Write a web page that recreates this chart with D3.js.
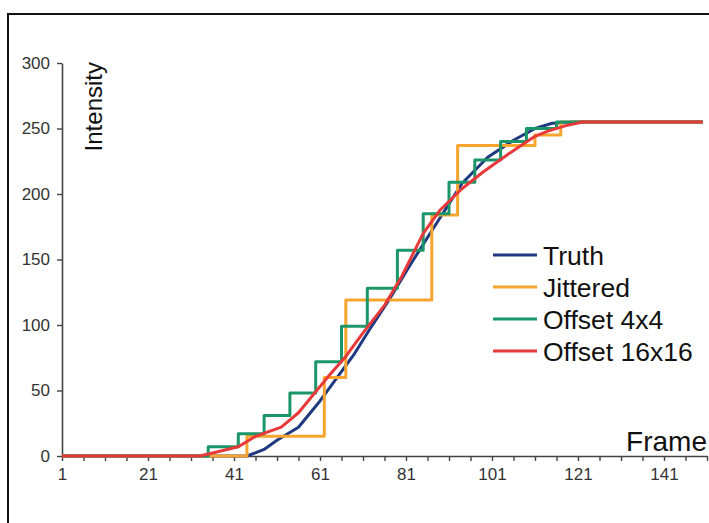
<!DOCTYPE html>
<html>
<head>
<meta charset="utf-8">
<script src="https://cdn.jsdelivr.net/npm/d3@7"></script>
<style>
  body { margin: 0; background: #fff; }
  svg { display: block; font-family: "Liberation Sans", Arial, Helvetica, sans-serif; }
</style>
</head>
<body>
<div id="chart"></div>
<script>
// series values, [frame, intensity]
const truth = [[1,0],[44,0],[48,5],[51,12],[56,22],[61,42],[65,60],[69,78],[73,99],[77,119],[82,146],[87,172],[94,208],[100,228],[106,241],[111,250],[115,254],[121,255],[150,255]];
const jittered = [[1,0],[44,15],[62,60],[67,119],[87,184],[93,237],[111,245],[117,255],[150,255]];
const offset4 = [[1,0],[35,7],[42,17],[48,31],[54,48],[60,72],[66,99],[72,128],[79,157],[85,185],[91,209],[97,226],[103,240],[109,250],[116,255],[150,255]];
const offset16 = [[1,0],[33,0],[37,3],[42,7],[46,15],[52,22],[56,33],[59,45],[63,61],[67,76],[71,94],[76,115],[80,137],[85,170],[89,188],[94,204],[99,217],[105,231],[111,244],[114,248],[118,252],[122,255],[150,255]];

const seriesNames = ["Truth", "Jittered", "Offset 4x4", "Offset 16x16"];
const seriesColors = ["#1f3a80", "#f7a52e", "#1b9668", "#e8393a"];
const yTicks = [0, 50, 100, 150, 200, 250, 300];
const xLabels = [1, 21, 41, 61, 81, 101, 121, 141];

const width = 709, height = 523;

const svg = d3.select("#chart")
    .append("svg")
    .attr("width", width)
    .attr("height", height);

// frame border (only top and left edges are in view)
svg.append("path")
    .attr("d", `M8,${height} V14 H${width}`)
    .attr("fill", "none")
    .attr("stroke", "#111")
    .attr("stroke-width", 2);

const x = d3.scaleLinear().domain([1, 151]).range([62, 707]);
const y = d3.scaleLinear().domain([0, 300]).range([456, 63]);

const yAxis = svg.append("g")
    .attr("transform", `translate(${x(1)},0)`)
    .call(d3.axisLeft(y).tickValues(yTicks).tickSize(5).tickSizeOuter(0).tickPadding(7));

const xAxis = svg.append("g")
    .attr("transform", `translate(0,${y(0)})`)
    .call(d3.axisBottom(x)
      .tickValues(d3.range(1, 152, 5))
      .tickSize(5).tickSizeOuter(0).tickPadding(7)
      .tickFormat(d => xLabels.includes(d) ? d : ""));

[yAxis, xAxis].forEach(g => {
  g.select(".domain").attr("stroke", "#444").attr("stroke-width", 1.6);
  g.selectAll(".tick line").attr("stroke", "#444").attr("stroke-width", 1.4);
  g.selectAll(".tick text").attr("fill", "#333").style("font-size", "17px")
      .style("font-family", "'Liberation Sans', Arial, sans-serif");
});

const line = d3.line().x(d => x(d[0])).y(d => y(d[1]));
const stepLine = d3.line().x(d => x(d[0])).y(d => y(d[1])).curve(d3.curveStepAfter);

const plot = svg.append("g")
    .attr("fill", "none")
    .attr("stroke-width", 3)
    .attr("stroke-linejoin", "round");

plot.append("path").attr("d", line(truth)).attr("stroke", seriesColors[0]);
plot.append("path").attr("d", stepLine(jittered)).attr("stroke", seriesColors[1]);
plot.append("path").attr("d", stepLine(offset4)).attr("stroke", seriesColors[2]);
plot.append("path").attr("d", line(offset16)).attr("stroke", seriesColors[3]);

// axis titles
svg.append("text")
    .attr("transform", "translate(102,62) rotate(-90)")
    .attr("text-anchor", "end")
    .style("font-size", "24px")
    .attr("fill", "#111")
    .text("Intensity");

svg.append("text")
    .attr("x", 707)
    .attr("y", 451)
    .attr("text-anchor", "end")
    .style("font-size", "28px")
    .attr("fill", "#111")
    .text("Frame");

// legend
const legend = svg.append("g")
    .selectAll("g")
    .data(seriesNames)
    .enter().append("g")
    .attr("transform", (d, i) => `translate(493,${255 + i * 32})`);

legend.append("line")
    .attr("x1", 0).attr("x2", 44)
    .attr("stroke", (d, i) => seriesColors[i])
    .attr("stroke-width", 3);

legend.append("text")
    .attr("x", 50)
    .attr("dy", "0.36em")
    .style("font-size", "26.5px")
    .attr("fill", "#111")
    .text(d => d);
</script>
</body>
</html>
